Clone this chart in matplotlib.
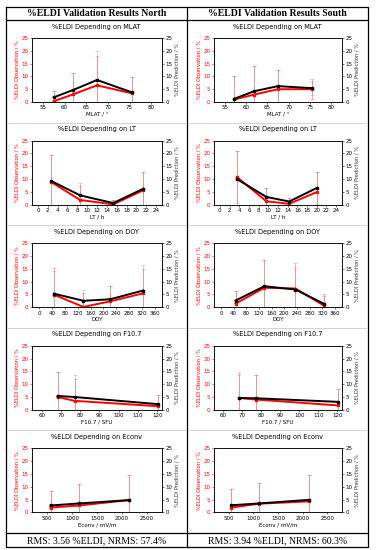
import numpy as np
import matplotlib.pyplot as plt
from matplotlib.lines import Line2D

# panel data: x, observed %ELDI, predicted %ELDI, errors
mlat_n_x = [57.5, 62.0, 67.5, 75.5]
mlat_n_obs = [0.3, 3.0, 6.5, 3.4]
mlat_n_pred = [1.8, 4.7, 8.6, 3.8]
mlat_n_obs_err = [3.9, 8.2, 11.5, 6.3]
mlat_n_pred_err = [2.4, 6.5, 11.2, 5.9]

mlat_s_x = [57.3, 61.9, 67.5, 75.5]
mlat_s_obs = [1.0, 2.9, 5.0, 5.0]
mlat_s_pred = [1.3, 4.2, 6.2, 5.4]
mlat_s_obs_err = [9.2, 11.1, 7.6, 4.0]
mlat_s_pred_err = [8.9, 9.8, 6.4, 2.8]

lt_n_x = [2.7, 8.6, 15.3, 21.4]
lt_n_obs = [8.8, 1.8, 0.1, 5.6]
lt_n_pred = [9.2, 3.6, 0.6, 6.2]
lt_n_obs_err = [10.7, 6.5, 1.8, 7.0]
lt_n_pred_err = [10.3, 3.7, 1.3, 6.4]

lt_s_x = [3.5, 9.6, 14.3, 20.0]
lt_s_obs = [10.8, 1.3, 0.3, 4.9]
lt_s_pred = [10.0, 3.0, 1.2, 6.5]
lt_s_obs_err = [10.2, 5.3, 2.4, 7.8]
lt_s_pred_err = [11.0, 3.6, 1.5, 6.2]

doy_n_x = [46, 138, 221, 323]
doy_n_obs = [4.9, 0.1, 2.3, 5.4]
doy_n_pred = [5.3, 2.5, 3.1, 6.5]
doy_n_obs_err = [10.3, 5.5, 5.9, 9.5]
doy_n_pred_err = [8.7, 4.2, 5.1, 10.0]

doy_s_x = [46, 137, 235, 324]
doy_s_obs = [1.4, 7.6, 7.3, 0.7]
doy_s_pred = [2.6, 8.2, 6.9, 1.4]
doy_s_obs_err = [5.1, 11.0, 10.0, 4.3]
doy_s_pred_err = [3.9, 10.1, 8.5, 2.9]

f107_n_x = [68.3, 77.1, 120.5]
f107_n_obs = [5.0, 3.5, 1.4]
f107_n_pred = [5.4, 5.0, 2.2]
f107_n_obs_err = [9.8, 8.6, 4.3]
f107_n_pred_err = [9.4, 8.4, 3.5]

f107_s_x = [68.3, 77.3, 120.5]
f107_s_obs = [4.6, 4.0, 1.7]
f107_s_pred = [4.6, 4.5, 3.1]
f107_s_obs_err = [9.8, 9.5, 6.4]
f107_s_pred_err = [8.9, 9.0, 5.0]

econv_n_x = [570, 1145, 2140]
econv_n_obs = [1.9, 2.7, 4.8]
econv_n_pred = [2.7, 3.5, 4.8]
econv_n_obs_err = [6.3, 8.3, 9.8]
econv_n_pred_err = [5.5, 7.5, 9.8]

econv_s_x = [555, 1120, 2120]
econv_s_obs = [1.9, 3.4, 4.3]
econv_s_pred = [2.8, 3.5, 4.9]
econv_s_obs_err = [7.2, 7.9, 10.3]
econv_s_pred_err = [6.3, 7.8, 9.7]

names = ["MLAT", "LT", "DOY", "F10.7", "Econv"]
xlabels = ["MLAT / °", "LT / h", "DOY", "F10.7 / SFU", "Econv / mV/m"]
xlims = [(52.5, 82.5), (-1.2, 25.2), (-22, 382), (55, 122.5), (200, 2800)]
xticks = [np.arange(55, 81, 5), np.arange(0, 25, 2), np.arange(0, 361, 40),
          np.arange(60, 121, 10), np.arange(500, 2501, 500)]

north = [
    (mlat_n_x, mlat_n_obs, mlat_n_pred, mlat_n_obs_err, mlat_n_pred_err),
    (lt_n_x, lt_n_obs, lt_n_pred, lt_n_obs_err, lt_n_pred_err),
    (doy_n_x, doy_n_obs, doy_n_pred, doy_n_obs_err, doy_n_pred_err),
    (f107_n_x, f107_n_obs, f107_n_pred, f107_n_obs_err, f107_n_pred_err),
    (econv_n_x, econv_n_obs, econv_n_pred, econv_n_obs_err, econv_n_pred_err),
]
south = [
    (mlat_s_x, mlat_s_obs, mlat_s_pred, mlat_s_obs_err, mlat_s_pred_err),
    (lt_s_x, lt_s_obs, lt_s_pred, lt_s_obs_err, lt_s_pred_err),
    (doy_s_x, doy_s_obs, doy_s_pred, doy_s_obs_err, doy_s_pred_err),
    (f107_s_x, f107_s_obs, f107_s_pred, f107_s_obs_err, f107_s_pred_err),
    (econv_s_x, econv_s_obs, econv_s_pred, econv_s_obs_err, econv_s_pred_err),
]
headers = ["%ELDI Validation Results North", "%ELDI Validation Results South"]
footers = ["RMS: 3.56 %ELDI, NRMS: 57.4%", "RMS: 3.94 %ELDI, NRMS: 60.3%"]

W, H = 379, 550
fig = plt.figure(figsize=(W / 100, H / 100), dpi=100)

# background layer in pixel coords for the table frame
bg = fig.add_axes([0, 0, 1, 1])
bg.set_xlim(0, W)
bg.set_ylim(H, 0)
bg.axis("off")

left, right, mid = 6, 368, 187
top, head_bot, foot_top, bottom = 7, 20, 533, 547
ph = (foot_top - head_bot) / 5

bg.plot([left, right, right, left, left], [top, top, bottom, bottom, top], color="black", lw=0.9)
bg.plot([left, right], [head_bot, head_bot], color="black", lw=0.9)
bg.plot([left, right], [foot_top, foot_top], color="black", lw=0.9)
bg.plot([mid, mid], [top, bottom], color="black", lw=0.9)
for i in range(1, 5):
    y = head_bot + i * ph
    bg.plot([left + 2, mid - 2], [y, y], color="#cccccc", lw=0.6)
    bg.plot([mid + 2, right - 2], [y, y], color="#cccccc", lw=0.6)

col_x = [(left, mid), (mid, right)]
ax_x = [(32, 162), (214, 342)]

for c, data in enumerate([north, south]):
    cx0, cx1 = col_x[c]
    bg.text((cx0 + cx1) / 2, (top + head_bot) / 2 + 0.5, headers[c], ha="center", va="center",
            fontsize=7, fontweight="bold", family="Liberation Serif")
    bg.text((cx0 + cx1) / 2, (foot_top + bottom) / 2 + 0.5, footers[c], ha="center", va="center",
            fontsize=7, family="Liberation Serif")
    for i in range(5):
        x, obs, pred, oerr, perr = data[i]
        ptop = head_bot + i * ph
        bg.text((cx0 + cx1) / 2, ptop + 6.5, "%ELDI Depending on " + names[i], ha="center",
                va="center", fontsize=4.7)
        ax0, ax1 = ax_x[c]
        ay0, ay1 = ptop + 18, ptop + 82
        ax = fig.add_axes([ax0 / W, 1 - ay1 / H, (ax1 - ax0) / W, (ay1 - ay0) / H])
        ax2 = ax.twinx()

        ax.errorbar(x, obs, yerr=oerr, fmt="none", ecolor="red", alpha=0.35, elinewidth=0.7,
                    capsize=1.2, capthick=0.5)
        ax2.errorbar(x, pred, yerr=perr, fmt="none", ecolor="gray", alpha=0.45, elinewidth=0.5,
                     capsize=1.2, capthick=0.5)
        ax.plot(x, obs, color="red", lw=1.4, marker="s", ms=1.8)
        ax2.plot(x, pred, color="black", lw=1.4, marker="s", ms=1.8)

        for a in (ax, ax2):
            a.set_ylim(0, 25)
            a.set_yticks(np.arange(0, 26, 5))
            a.tick_params(labelsize=4, length=1.5, width=0.4, pad=1)
        ax.set_xlim(*xlims[i])
        ax.set_xticks(xticks[i])
        ax.tick_params(axis="y", colors="red")
        ax.set_ylabel("%ELDI Observation / %", color="red", fontsize=3.7, labelpad=1.5)
        ax2.set_ylabel("%ELDI Prediction / %", color="#333333", fontsize=3.7, labelpad=1.5)
        ax.set_xlabel(xlabels[i], fontsize=4, labelpad=1)
        for a in (ax, ax2):
            for s in a.spines.values():
                s.set_linewidth(0.5)

fig.savefig("out.png", dpi=100)
